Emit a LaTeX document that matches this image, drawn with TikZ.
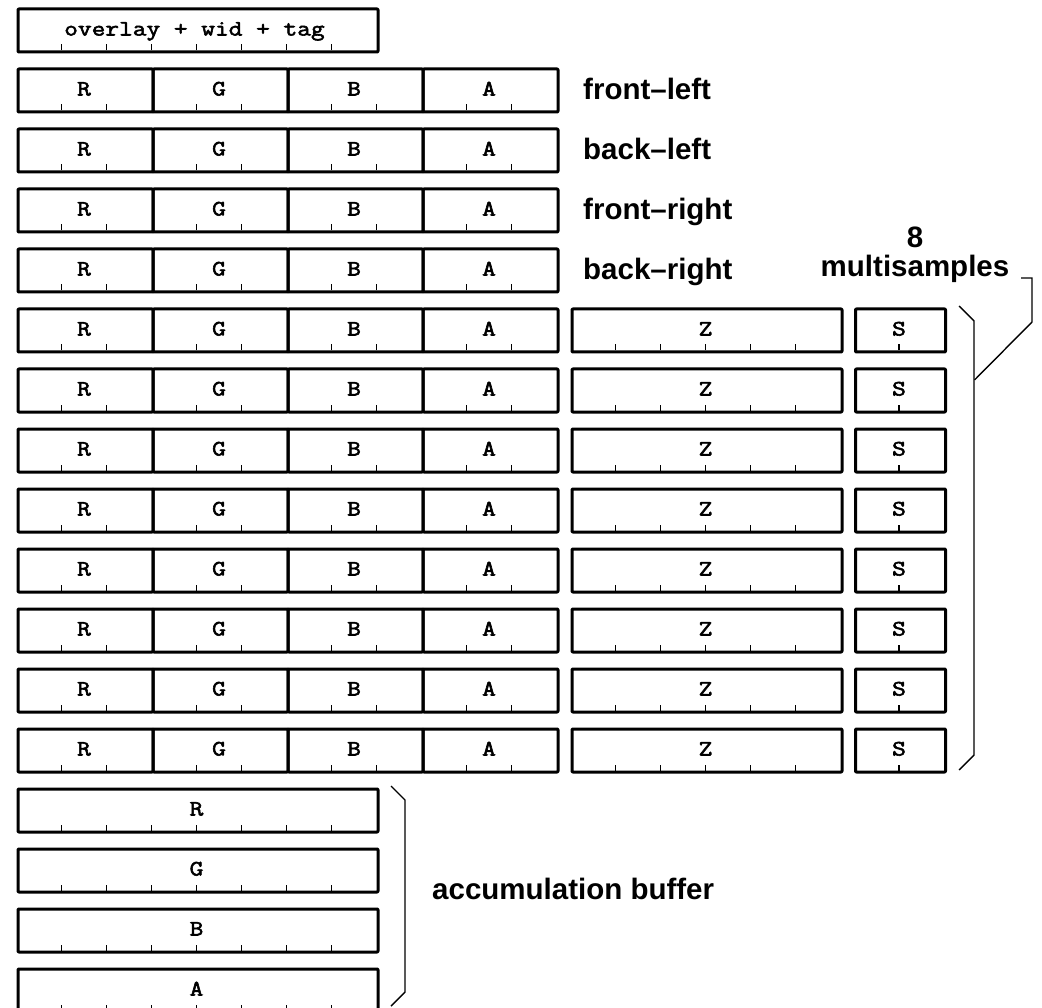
\documentclass[tikz,border=0pt]{standalone}
\usepackage{fontspec}
\setsansfont{Liberation Sans}
\newfontfamily\monob[FakeBold=2.6,FakeStretch=1.21]{Latin Modern Mono}
\begin{document}
\begin{tikzpicture}[x=1pt,y=-1pt,
  box/.style={draw, line width=3pt, line join=round, rounded corners=0.8pt, inner sep=0pt, anchor=north west, minimum height=43pt},
  tickline/.style={line width=1.3pt},
  lbl/.style={font=\sffamily\bfseries\fontsize{29.5}{30}\selectfont, inner sep=0pt},
  mono/.style={font=\monob\fontsize{22}{22}\selectfont, inner sep=0pt, anchor=base},
  brk/.style={line width=1.4pt, line join=miter}]
\useasboundingbox (0,0) rectangle (1042,1008);
% overlay box
\node[box, minimum width=360pt] (ovl) at (16.5,7.5) {};
\node[mono] (ovlt) at (194.5,35.5) {overlay + wid + tag};
\foreach \i in {1,...,7} {\draw[tickline] (16.5+45*\i,50.5) -- ++(0,-6);}
% RGBA rows
\foreach \k in {1,...,12} {
  \pgfmathsetmacro{\yt}{7.5+60*\k}
  \pgfmathsetmacro{\yb}{50.5+60*\k}
  \pgfmathsetmacro{\yl}{35.5+60*\k}
  \foreach \c [count=\j from 0] in {R,G,B,A} {
    \node[box, minimum width=135pt] (c\k\c) at (16.5+135*\j,\yt) {};
    \node[mono] (c\k\c t) at (84+135*\j,\yl) {\c};
    \draw[tickline] (61.5+135*\j,\yb) -- ++(0,-6);
    \draw[tickline] (106.5+135*\j,\yb) -- ++(0,-6);
  }
}
% Z and S rows
\foreach \k in {5,...,12} {
  \pgfmathsetmacro{\yt}{7.5+60*\k}
  \pgfmathsetmacro{\yb}{50.5+60*\k}
  \pgfmathsetmacro{\yl}{35.5+60*\k}
  \node[box, minimum width=270pt] (z\k) at (570.5,\yt) {};
  \node[mono] (z\k t) at (705.5,\yl) {Z};
  \foreach \i in {1,...,5} {\draw[tickline] (570.5+45*\i,\yb) -- ++(0,-6);}
  \node[box, minimum width=90pt] (s\k) at (854,\yt) {};
  \node[mono] (s\k t) at (899,\yl) {S};
  \draw[tickline] (899,\yb) -- ++(0,-6);
}
% accumulation rows
\foreach \c [count=\j from 13] in {R,G,B,A} {
  \pgfmathsetmacro{\yt}{7.5+60*\j}
  \pgfmathsetmacro{\yb}{50.5+60*\j}
  \pgfmathsetmacro{\yl}{35.5+60*\j}
  \node[box, minimum width=360pt] (acc\c) at (16.5,\yt) {};
  \node[mono] (acc\c t) at (196.5,\yl) {\c};
  \foreach \i in {1,...,7} {\draw[tickline] (16.5+45*\i,\yb) -- ++(0,-6);}
}
% labels
\node[lbl, anchor=base west] (fl) at (583,99.5) {front–left};
\node[lbl, anchor=base west] (bl) at (583,159.5) {back–left};
\node[lbl, anchor=base west] (fr) at (583,219.5) {front–right};
\node[lbl, anchor=base west] (br) at (583,279.5) {back–right};
\node[lbl, anchor=base] (eight) at (915,248) {8};
\node[lbl, anchor=base] (ms) at (915,277) {multisamples};
\node[lbl, anchor=base west] (accl) at (432,899.5) {accumulation buffer};
% brackets
\coordinate (msb1) at (959,306);
\coordinate (msb2) at (974,321);
\coordinate (msb3) at (974,755);
\coordinate (msb4) at (959,770);
\draw[brk] (msb1) -- (msb2) -- (msb3) -- (msb4);
\coordinate (ld1) at (1021,278);
\coordinate (ld2) at (1032,278);
\coordinate (ld3) at (1032,322);
\coordinate (ld4) at (974.5,380);
\draw[brk] (ld1) -- (ld2) -- (ld3) -- (ld4);
\coordinate (ab1) at (391,786);
\coordinate (ab2) at (405,800);
\coordinate (ab3) at (405,992);
\coordinate (ab4) at (391,1006);
\draw[brk] (ab1) -- (ab2) -- (ab3) -- (ab4);
\end{tikzpicture}
\end{document}
